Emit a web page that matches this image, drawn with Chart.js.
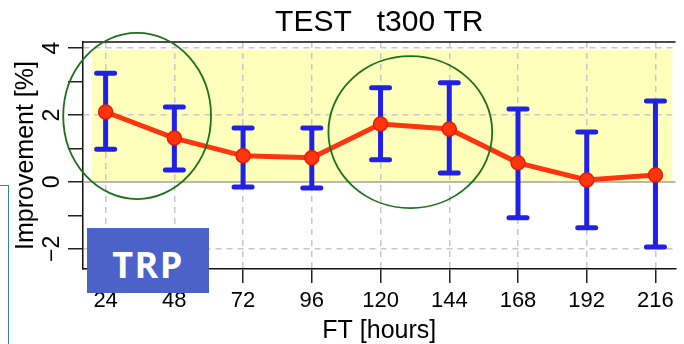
<!DOCTYPE html>
<html>
<head>
<meta charset="utf-8">
<script src="https://cdn.jsdelivr.net/npm/chart.js@4.4.1/dist/chart.umd.min.js"></script>
<style>
  body { margin: 0; background: #fff; }
  #wrap { position: relative; width: 684px; height: 344px; overflow: hidden; }
  #trp {
    position: absolute; left: 87px; top: 228px; width: 122px; height: 65px;
    background: #4b63c9; color: #fff; font: bold 36px "Open Sans", sans-serif; letter-spacing: 1.5px;
    display: flex; align-items: center; justify-content: center; padding-top: 8px; box-sizing: border-box;
  }
  #edge {
    position: absolute; left: 0; top: 185px; width: 8px; height: 170px;
    border-top: 1.5px solid #2a7fd0; border-right: 1.5px solid #2a7fd0;
  }
</style>
</head>
<body>
<div id="wrap">
  <canvas id="c" width="684" height="344"></canvas>
  <div id="edge"></div>
  <div id="trp">TRP</div>
</div>
<script>
// values
const ftHours = [24, 48, 72, 96, 120, 144, 168, 192, 216];
const improvement = [2.09, 1.31, 0.78, 0.72, 1.73, 1.58, 0.57, 0.06, 0.21];
const upperBar = [3.25, 2.24, 1.61, 1.61, 2.81, 2.96, 2.18, 1.49, 2.42];
const lowerBar = [0.98, 0.36, -0.15, -0.18, 0.66, 0.27, -1.07, -1.37, -1.94];
const yTicks = [-2, -1, 0, 1, 2, 3, 4];
const yLabelTicks = [-2, 0, 2, 4];
// shaded band and the two hand-drawn circles, in data units
const bandX = [19.2, 221.9];
const bandY = [0, 3.94];
const circleX = [35.0, 130.4];
const circleY = [1.97, 1.49];
const circleRx = [25.8, 28.6];
const circleRy = [2.48, 2.27];

Chart.defaults.font.family = '"Liberation Sans", Arial, sans-serif';
Chart.defaults.color = '#000';

const decor = {
  id: 'decor',
  beforeDraw(chart) {
    const {ctx, scales: {x, y}} = chart;
    ctx.save();
    ctx.fillStyle = '#ffffbc';
    const x0 = x.getPixelForValue(bandX[0]), x1 = x.getPixelForValue(bandX[1]);
    const y0 = y.getPixelForValue(bandY[1]), y1 = y.getPixelForValue(bandY[0]);
    ctx.fillRect(x0, y0, x1 - x0, y1 - y0);
    ctx.restore();
  },
  beforeDatasetsDraw(chart) {
    const {ctx, chartArea, scales: {x, y}} = chart;
    ctx.save();
    // zero line
    ctx.strokeStyle = '#a0a0a0';
    ctx.lineWidth = 1.5;
    const yz = y.getPixelForValue(0);
    ctx.beginPath();
    ctx.moveTo(chartArea.left, yz);
    ctx.lineTo(chartArea.right, yz);
    ctx.stroke();
    // top frame
    ctx.strokeStyle = '#111';
    ctx.beginPath();
    ctx.moveTo(chartArea.left, chartArea.top);
    ctx.lineTo(chartArea.right, chartArea.top);
    ctx.stroke();
    // error bars
    ctx.strokeStyle = '#2020e6';
    ctx.lineWidth = 5;
    ctx.lineCap = 'round';
    ftHours.forEach((h, i) => {
      const px = x.getPixelForValue(h);
      const hi = y.getPixelForValue(upperBar[i]);
      const lo = y.getPixelForValue(lowerBar[i]);
      ctx.beginPath();
      ctx.moveTo(px, hi); ctx.lineTo(px, lo);
      ctx.moveTo(px - 9, hi); ctx.lineTo(px + 9, hi);
      ctx.moveTo(px - 9, lo); ctx.lineTo(px + 9, lo);
      ctx.stroke();
    });
    ctx.restore();
  },
  afterDatasetsDraw(chart) {
    const {ctx, scales: {x, y}} = chart;
    ctx.save();
    ctx.strokeStyle = '#1c701c';
    ctx.lineWidth = 1.8;
    circleX.forEach((cx, i) => {
      const px = x.getPixelForValue(cx), py = y.getPixelForValue(circleY[i]);
      const rx = Math.abs(x.getPixelForValue(cx + circleRx[i]) - px);
      const ry = Math.abs(y.getPixelForValue(circleY[i] + circleRy[i]) - py);
      ctx.beginPath();
      ctx.ellipse(px, py, rx, ry, 0, 0, Math.PI * 2);
      ctx.stroke();
    });
    ctx.restore();
  }
};

const minus = v => String(v).replace('-', '\u2212');

new Chart(document.getElementById('c').getContext('2d'), {
  type: 'line',
  data: {
    datasets: [{
      data: ftHours.map((h, i) => ({x: h, y: improvement[i]})),
      borderColor: '#ff3510',
      borderWidth: 5,
      pointRadius: 7,
      pointBackgroundColor: '#ff3510',
      pointBorderColor: '#e81e00',
      pointBorderWidth: 1.5,
      tension: 0
    }]
  },
  options: {
    responsive: false,
    animation: false,
    devicePixelRatio: 1,
    layout: {padding: 0},
    plugins: {
      legend: {display: false},
      tooltip: {enabled: false},
      title: {
        display: true,
        text: 'TEST   t300 TR',
        fullSize: false,
        color: '#000',
        font: {size: 30, weight: 'normal', lineHeight: 1.2},
        padding: {top: 4.5, bottom: 1.5}
      }
    },
    scales: {
      x: {
        type: 'linear',
        min: 16.1,
        max: 223,
        afterFit: s => { s.height = 75; },
        afterBuildTicks: s => { s.ticks = ftHours.map(v => ({value: v})); },
        ticks: {font: {size: 22}, color: '#000', padding: 5, maxRotation: 0, autoSkip: false},
        grid: {color: '#c8c8c8', lineWidth: 1.5, tickColor: '#222', tickLength: 14, tickWidth: 1.5},
        border: {color: '#111', width: 1.5, dash: [6, 5]},
        title: {display: true, text: 'FT [hours]', color: '#000', font: {size: 25, lineHeight: 1}, padding: 0}
      },
      y: {
        min: -2.6,
        max: 4.18,
        afterFit: s => { s.width = 83; },
        afterBuildTicks: s => { s.ticks = yTicks.map(v => ({value: v})); },
        ticks: {
          font: {size: 23}, color: '#000', padding: 2, autoSkip: false,
          minRotation: 90, maxRotation: 90, crossAlign: 'center',
          callback: v => yLabelTicks.includes(v) ? minus(v) : ''
        },
        grid: {
          color: c => (c.tick && yLabelTicks.includes(c.tick.value) && c.tick.value !== 0) ? '#c8c8c8' : 'rgba(0,0,0,0)',
          lineWidth: 1.5, tickColor: '#222', tickLength: 15, tickWidth: 1.5
        },
        border: {color: '#111', width: 1.5, dash: [6, 5]},
        title: {display: true, text: 'Improvement [%]', color: '#000', font: {size: 25, lineHeight: 1.2}, padding: {top: 11, bottom: 0}}
      }
    }
  },
  plugins: [decor]
});
</script>
</body>
</html>
